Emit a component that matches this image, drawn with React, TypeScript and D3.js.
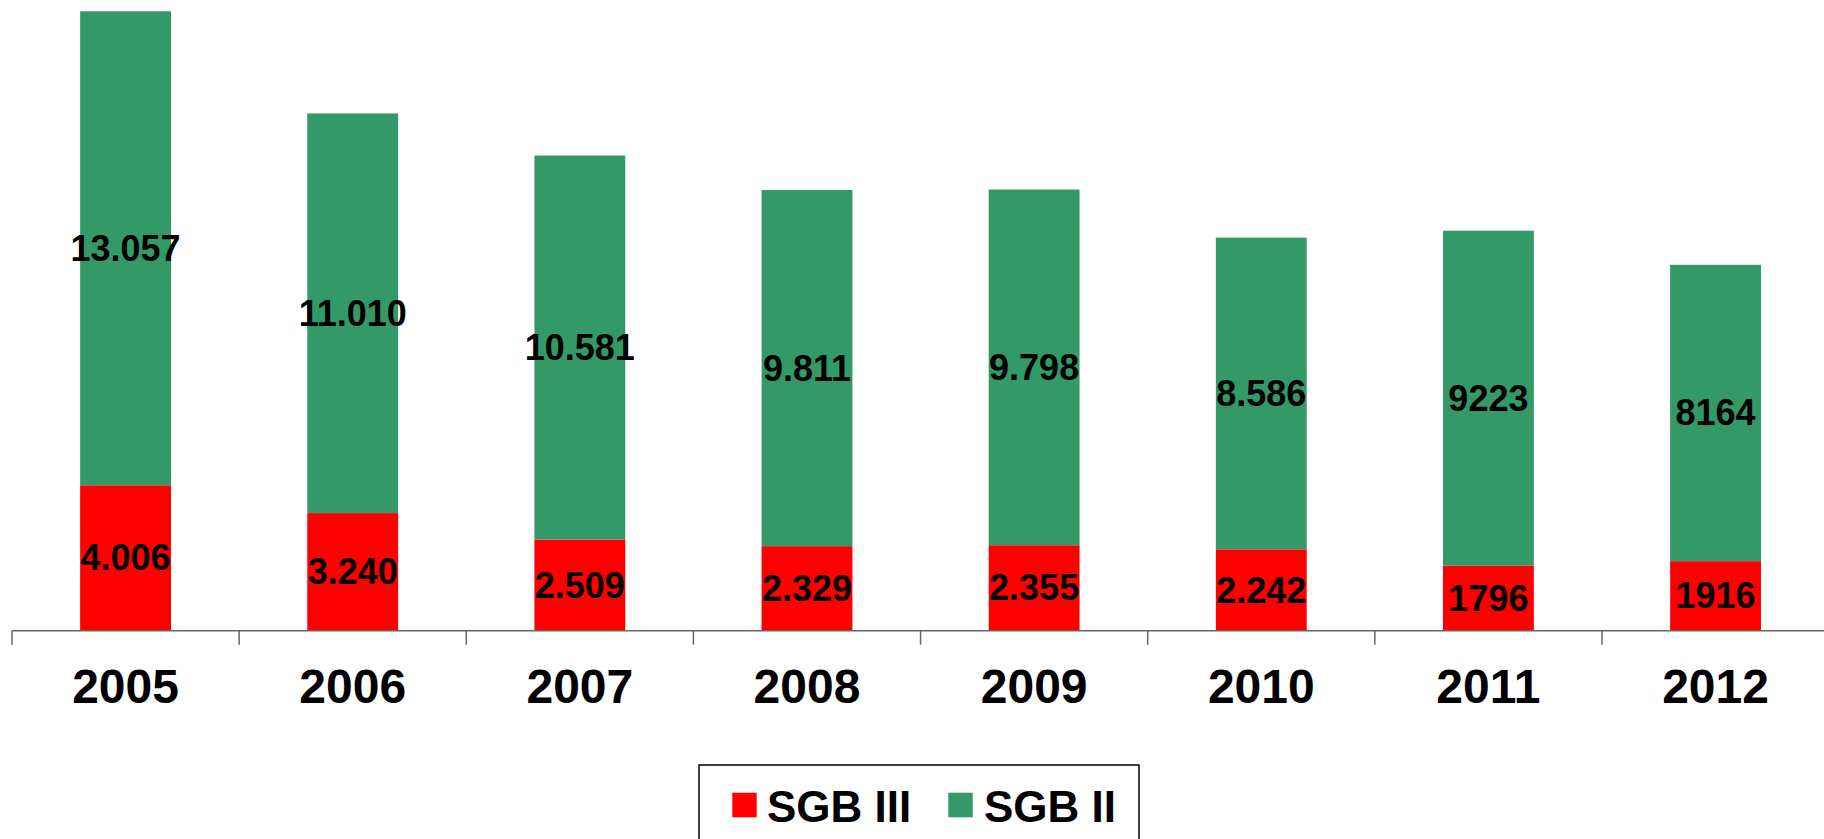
import React from "react";
import * as d3 from "d3";

const YEARS = ["2005", "2006", "2007", "2008", "2009", "2010", "2011", "2012"];
const SGB3 = [4006, 3240, 2509, 2329, 2355, 2242, 1796, 1916];
const SGB2 = [13057, 11010, 10581, 9811, 9798, 8586, 9223, 8164];
const SGB3_LABELS = ["4.006", "3.240", "2.509", "2.329", "2.355", "2.242", "1796", "1916"];
const SGB2_LABELS = ["13.057", "11.010", "10.581", "9.811", "9.798", "8.586", "9223", "8164"];

const RED = "#ff0000";
const GREEN = "#339966";
const FONT = "'Liberation Sans', Arial, sans-serif";

export default function App() {
  const width = 1824;
  const height = 839;
  const axisY = 630.7;

  // bands start at the first tick and run off the right edge
  const x = d3
    .scaleBand()
    .domain(YEARS)
    .range([12, 12 + 8 * 227.14]);
  const barW = x.bandwidth() * 0.4;

  const totals = YEARS.map((_, i) => SGB3[i] + SGB2[i]);
  const y = d3
    .scaleLinear()
    .domain([0, d3.max(totals) as number])
    .range([axisY, 11.3]);

  const tickXs = YEARS.map((yr) => x(yr) as number);

  return (
    <div style={{ position: "absolute", left: 0, top: 0 }}>
      <svg width={width} height={height} style={{ display: "block" }}>
        <rect width={width} height={height} fill="#fff" />
        {YEARS.map((yr, i) => {
          const cx = (x(yr) as number) + x.bandwidth() / 2;
          const y0 = y(0);
          const y1 = y(SGB3[i]);
          const y2 = y(SGB3[i] + SGB2[i]);
          return (
            <g key={yr}>
              <rect x={cx - barW / 2} y={y1} width={barW} height={y0 - y1} fill={RED} />
              <rect x={cx - barW / 2} y={y2} width={barW} height={y1 - y2} fill={GREEN} />
              <text
                x={cx}
                y={(y0 + y1) / 2}
                textAnchor="middle"
                dominantBaseline="central"
                fontFamily={FONT}
                fontWeight="bold"
                fontSize={36}
                fill="#000"
              >
                {SGB3_LABELS[i]}
              </text>
              <text
                x={cx}
                y={(y1 + y2) / 2}
                textAnchor="middle"
                dominantBaseline="central"
                fontFamily={FONT}
                fontWeight="bold"
                fontSize={36}
                fill="#000"
              >
                {SGB2_LABELS[i]}
              </text>
              <text
                x={cx}
                y={703}
                textAnchor="middle"
                fontFamily={FONT}
                fontWeight="bold"
                fontSize={48}
                fill="#000"
              >
                {yr}
              </text>
            </g>
          );
        })}

        {/* category axis */}
        <line x1={12} x2={width} y1={axisY} y2={axisY} stroke="#666" strokeWidth={1.5} />
        {tickXs.map((tx) => (
          <line key={tx} x1={tx} x2={tx} y1={axisY} y2={axisY + 14} stroke="#666" strokeWidth={1.5} />
        ))}

        {/* legend */}
        <rect x={699} y={765} width={440} height={110} fill="#fff" stroke="#000" strokeWidth={1.5} />
        <rect x={732.3} y={792.7} width={24.4} height={24.6} fill={RED} />
        <text x={767} y={821.5} fontFamily={FONT} fontWeight="bold" fontSize={44} fill="#000">
          SGB III
        </text>
        <rect x={948.3} y={792.7} width={24.4} height={24.6} fill={GREEN} />
        <text x={984} y={821.5} fontFamily={FONT} fontWeight="bold" fontSize={44} fill="#000">
          SGB II
        </text>
      </svg>
    </div>
  );
}
